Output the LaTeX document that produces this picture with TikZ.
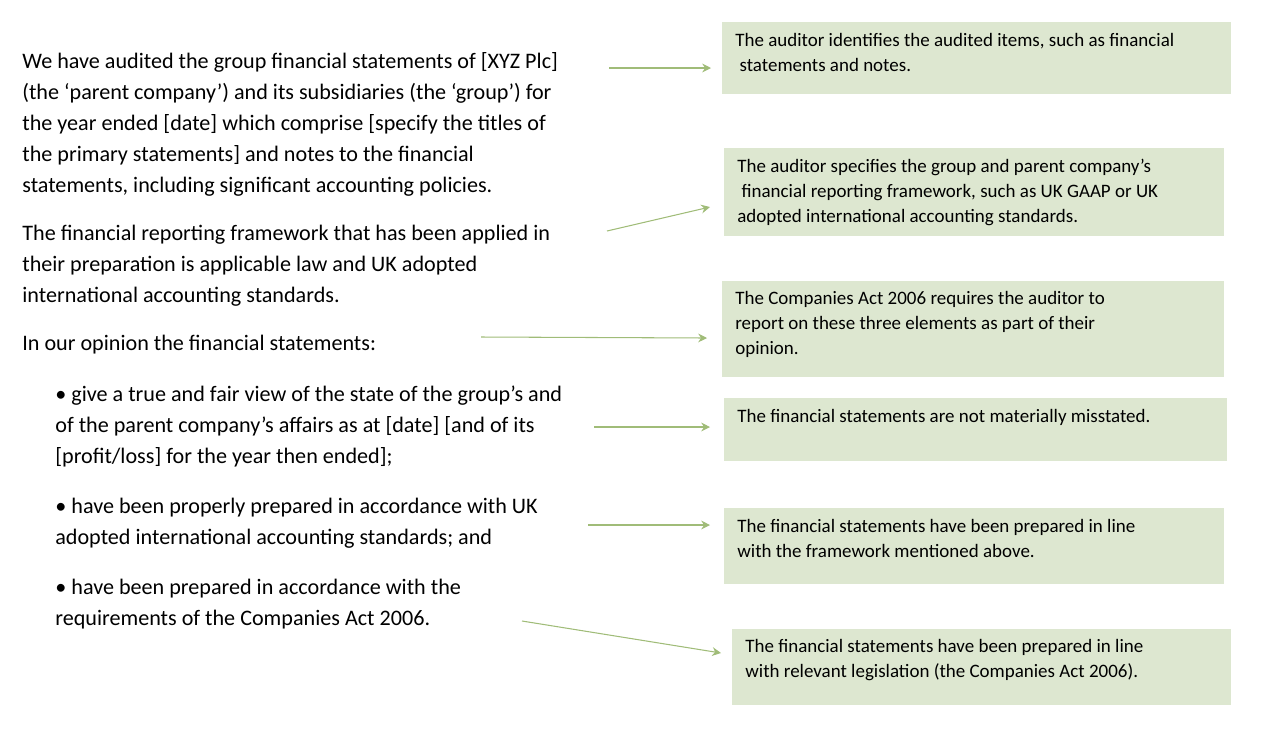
\documentclass[tikz,border=0pt]{standalone}
\usepackage{fontspec}
\setmainfont{Carlito}
\usetikzlibrary{arrows.meta, positioning}
\definecolor{notecolor}{RGB}{221, 231, 208}
\definecolor{arrowcolor}{RGB}{160, 188, 120}

\begin{document}
\begin{tikzpicture}[
    x=0.02cm, y=-0.02cm,
    >={Stealth[length=5pt, width=5pt]},
    para/.style={anchor=north west, inner sep=0pt, align=left, font=\fontsize{12.6}{17.6}\selectfont},
    note/.style={rectangle, fill=notecolor, anchor=north west, inner sep=0pt},
    notetext/.style={anchor=north west, inner sep=0pt, align=left, font=\fontsize{10.8}{14.2}\selectfont},
    arrow/.style={->, arrowcolor, line width=0.6pt}
]
\useasboundingbox (0,0) rectangle (1261,735);

% Report text
\node[para] (p1) at (22,52) {We have audited the group financial statements of [XYZ Plc]\\
(the ‘parent company’) and its subsidiaries (the ‘group’) for\\
the year ended [date] which comprise [specify the titles of\\
the primary statements] and notes to the financial\\
statements, including significant accounting policies.};
\node[para] (p2) at (22,225) {The financial reporting framework that has been applied in\\
their preparation is applicable law and UK adopted\\
international accounting standards.};
\node[para] (p3) at (22,335) {In our opinion the financial statements:};
\node[para] (b1) at (55,386) {• give a true and fair view of the state of the group’s and\\
of the parent company’s affairs as at [date] [and of its\\
\relax{[profit/loss]} for the year then ended];};
\node[para] (b2) at (55,498) {• have been properly prepared in accordance with UK\\
adopted international accounting standards; and};
\node[para] (b3) at (55,579) {• have been prepared in accordance with the\\
requirements of the Companies Act 2006.};

% Notes
\node[note, minimum width=509*0.02cm, minimum height=72*0.02cm] (n1) at (722,22) {};
\node[notetext] at (735,33) {The auditor identifies the audited items, such as financial\\
\ statements and notes.};
\node[note, minimum width=500*0.02cm, minimum height=88*0.02cm] (n2) at (724,148) {};
\node[notetext] at (737,159) {The auditor specifies the group and parent company’s\\
\ financial reporting framework, such as UK GAAP or UK\\
adopted international accounting standards.};
\node[note, minimum width=502*0.02cm, minimum height=96*0.02cm] (n3) at (722,281) {};
\node[notetext] at (735,291) {The Companies Act 2006 requires the auditor to\\
report on these three elements as part of their\\
opinion.};
\node[note, minimum width=503*0.02cm, minimum height=63*0.02cm] (n4) at (724,398) {};
\node[notetext] at (737,409) {The financial statements are not materially misstated.};
\node[note, minimum width=500*0.02cm, minimum height=76*0.02cm] (n5) at (724,508) {};
\node[notetext] at (737,519) {The financial statements have been prepared in line\\
with the framework mentioned above.};
\node[note, minimum width=499*0.02cm, minimum height=76*0.02cm] (n6) at (732,629) {};
\node[notetext] at (745,639) {The financial statements have been prepared in line\\
with relevant legislation (the Companies Act 2006).};

% Connectors
\coordinate (s1) at (609,68);  \coordinate (e1) at (711,68);
\coordinate (s2) at (607,231); \coordinate (e2) at (710,207);
\coordinate (s3) at (481,337); \coordinate (e3) at (707,338);
\coordinate (s4) at (594,427); \coordinate (e4) at (710,427);
\coordinate (s5) at (588,525); \coordinate (e5) at (710,525);
\coordinate (s6) at (522,621); \coordinate (e6) at (721,653);
\foreach \i in {1,...,6} {
    \draw[arrow] (s\i) -- (e\i);
}

\end{tikzpicture}
\end{document}
